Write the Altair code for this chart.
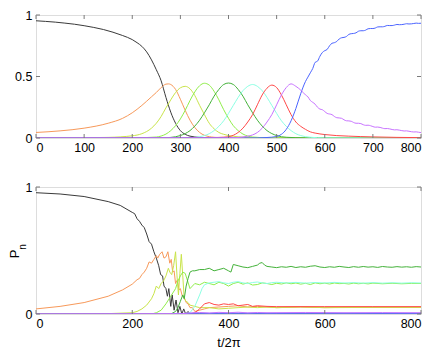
import altair as alt
import pandas as pd

# ---------------- data (t/2pi, P_n) ----------------
SERIES = ["black", "orange", "yellowgreen", "lightgreen", "green", "cyan", "red", "blue", "magenta"]
COLORS = ["#3a3a3a", "#f7995a", "#c9e44a", "#90ee4a", "#44b23a", "#8cffe4", "#ff4848", "#4b64ff", "#c873ff"]

top_black = [(0,.953),(20,.948),(40,.942),(60,.934),(80,.925),(100,.913),(120,.899),(140,.882),(160,.86),(180,.833),(200,.80),(210,.775),(220,.745),(230,.70),(240,.635),(250,.555),(260,.465),(270,.33),(280,.21),(290,.12),(300,.06),(310,.03),(320,.015),(340,.005),(360,.002),(400,0),(800,0)]
top_orange = [(0,.045),(50,.058),(100,.08),(150,.12),(180,.16),(200,.205),(220,.265),(240,.335),(250,.37),(260,.41),(270,.438),(275,.44),(280,.435),(290,.395),(300,.315),(310,.225),(320,.145),(330,.085),(340,.045),(350,.022),(370,.006),(400,0),(800,0)]
top_yellowgreen = [(0,0),(100,.002),(150,.005),(200,.018),(220,.035),(240,.08),(250,.12),(260,.175),(270,.245),(280,.31),(290,.37),(300,.408),(310,.42),(320,.40),(330,.345),(340,.265),(350,.19),(360,.12),(370,.075),(380,.045),(390,.03),(400,.02),(420,.01),(450,.004),(500,0),(800,0)]
top_lightgreen = [(0,0),(200,.001),(250,.008),(260,.016),(270,.032),(280,.06),(290,.10),(300,.155),(310,.225),(320,.305),(330,.375),(340,.425),(350,.445),(360,.43),(370,.38),(380,.31),(390,.23),(400,.16),(410,.10),(420,.06),(430,.032),(440,.016),(450,.008),(480,.002),(520,0),(800,0)]
top_green = [(0,0),(260,.001),(280,.005),(300,.02),(310,.036),(320,.06),(330,.097),(340,.145),(350,.205),(360,.27),(370,.34),(380,.395),(390,.435),(400,.447),(410,.435),(420,.395),(430,.34),(440,.27),(450,.205),(460,.145),(470,.097),(480,.06),(490,.036),(500,.02),(520,.006),(560,.001),(800,0)]
top_cyan = [(0,0),(320,.002),(340,.01),(350,.02),(360,.035),(370,.06),(380,.095),(390,.14),(400,.20),(410,.265),(420,.33),(430,.385),(440,.42),(450,.435),(460,.42),(470,.385),(480,.33),(490,.265),(500,.20),(510,.14),(520,.095),(530,.06),(540,.035),(550,.02),(570,.006),(600,.001),(800,0)]
top_red = [(0,0),(360,.002),(380,.005),(400,.01),(410,.022),(420,.045),(430,.08),(440,.13),(450,.19),(460,.27),(470,.35),(480,.405),(490,.43),(500,.41),(510,.35),(520,.27),(530,.19),(540,.13),(550,.095),(560,.07),(570,.05),(580,.04),(600,.028),(650,.015),(700,.009),(750,.005),(800,.003)]
top_blue = [(0,0),(460,.001),(480,.004),(500,.012),(510,.03),(520,.07),(530,.14),(540,.24),(550,.36),(560,.46),(565,.495),(570,.53),(575,.565),(580,.615),(585,.625),(590,.665),(595,.695),(600,.71),(605,.72),(610,.75),(615,.77),(620,.775),(625,.785),(630,.805),(635,.815),(640,.818),(645,.825),(650,.842),(655,.848),(660,.85),(665,.855),(670,.868),(675,.872),(680,.872),(685,.877),(690,.888),(695,.89),(700,.89),(705,.894),(710,.903),(715,.904),(720,.904),(725,.908),(730,.915),(735,.914),(740,.914),(745,.918),(750,.923),(755,.921),(760,.922),(765,.925),(770,.929),(775,.927),(780,.928),(785,.931),(790,.934),(795,.932),(800,.933)]
top_magenta = [(0,0),(400,.001),(420,.004),(440,.015),(450,.025),(460,.045),(470,.08),(480,.13),(490,.19),(500,.27),(510,.35),(520,.41),(530,.44),(540,.42),(550,.39),(560,.35),(565,.335),(570,.305),(575,.29),(580,.275),(585,.25),(590,.235),(595,.23),(600,.215),(605,.20),(610,.195),(615,.19),(620,.175),(625,.165),(630,.163),(635,.16),(640,.148),(645,.14),(650,.139),(655,.136),(660,.126),(665,.12),(670,.12),(675,.117),(680,.108),(685,.103),(690,.104),(695,.10),(700,.093),(705,.088),(710,.089),(715,.086),(720,.08),(725,.076),(730,.077),(735,.074),(740,.069),(745,.066),(750,.067),(755,.064),(760,.06),(765,.057),(770,.058),(775,.055),(780,.051),(785,.049),(790,.05),(795,.047),(800,.044)]

bot_black = [(0,.955),(50,.945),(100,.925),(150,.885),(175,.855),(200,.80),(205,.79),(210,.75),(215,.73),(220,.70),(225,.68),(230,.63),(235,.57),(240,.55),(245,.49),(250,.44),(255,.38),(259,.31),(263,.30),(266,.22),(270,.20),(273,.14),(276,.20),(280,.06),(283,.15),(287,.03),(291,.11),(295,.01),(299,.06),(303,0),(307,.04),(311,0),(316,.02),(320,0),(800,0)]
bot_orange = [(0,.04),(50,.06),(100,.09),(150,.14),(180,.19),(200,.235),(210,.27),(215,.28),(220,.31),(225,.33),(230,.36),(235,.41),(240,.40),(245,.43),(250,.46),(253,.44),(257,.47),(262,.49),(266,.44),(270,.45),(274,.49),(278,.40),(281,.43),(284,.33),(287,.34),(290,.24),(294,.27),(297,.19),(300,.20),(304,.14),(308,.13),(312,.09),(316,.08),(320,.05),(325,.05),(330,.02),(340,.03),(350,.04),(360,.05),(380,.055),(400,.06),(420,.065),(440,.055),(460,.06),(480,.055),(500,.05),(550,.055),(600,.05),(650,.053),(700,.052),(800,.052)]
bot_yellowgreen = [(0,0),(150,.003),(200,.01),(210,.02),(220,.04),(230,.07),(240,.12),(245,.16),(250,.22),(255,.20),(260,.24),(265,.26),(270,.30),(275,.36),(278,.33),(282,.31),(286,.38),(290,.49),(293,.30),(296,.15),(299,.32),(302,.47),(305,.30),(308,.12),(312,.10),(316,.09),(320,.07),(330,.06),(340,.05),(360,.05),(380,.04),(400,.045),(420,.05),(440,.055),(460,.05),(480,.055),(500,.05),(550,.055),(600,.05),(700,.052),(800,.052)]
bot_lightgreen = [(0,0),(240,0),(250,.01),(260,.03),(270,.08),(280,.14),(290,.20),(295,.26),(300,.30),(305,.33),(310,.32),(315,.26),(320,.20),(325,.22),(330,.24),(340,.23),(350,.25),(360,.24),(370,.23),(380,.25),(390,.24),(400,.22),(410,.24),(420,.25),(430,.235),(440,.245),(450,.228),(460,.232),(470,.245),(480,.24),(490,.232),(500,.242),(510,.236),(520,.245),(530,.238),(540,.244),(550,.235),(560,.242),(570,.232),(580,.245),(590,.238),(600,.243),(610,.236),(620,.244),(630,.239),(640,.241),(650,.236),(660,.243),(670,.238),(680,.242),(690,.237),(700,.243),(720,.238),(740,.242),(760,.238),(780,.241),(800,.24)]
bot_green = [(0,0),(280,0),(290,.02),(295,.05),(300,.10),(305,.15),(308,.12),(312,.22),(316,.28),(320,.33),(325,.34),(330,.34),(340,.35),(350,.35),(360,.36),(370,.34),(380,.35),(390,.36),(400,.34),(405,.33),(410,.39),(420,.38),(430,.37),(440,.365),(450,.375),(460,.385),(465,.40),(470,.405),(475,.385),(480,.375),(490,.37),(500,.365),(510,.372),(520,.368),(530,.375),(540,.366),(550,.372),(560,.368),(570,.376),(580,.38),(590,.37),(600,.366),(610,.372),(620,.368),(630,.375),(640,.37),(650,.366),(660,.373),(670,.368),(680,.374),(690,.369),(700,.372),(710,.367),(720,.374),(730,.37),(740,.368),(750,.373),(760,.369),(770,.372),(780,.368),(790,.373),(800,.37)]
bot_cyan = [(0,0),(310,0),(320,.01),(330,.06),(340,.15),(345,.20),(350,.23),(360,.245),(370,.25),(380,.255),(390,.245),(400,.24),(410,.25),(420,.255),(430,.245),(440,.24),(450,.248),(460,.252),(470,.245),(480,.24),(490,.247),(500,.25),(520,.244),(540,.249),(560,.243),(580,.248),(600,.244),(620,.249),(640,.244),(660,.247),(680,.243),(700,.247),(720,.243),(740,.246),(760,.243),(780,.246),(800,.244)]
bot_red = [(0,0),(320,0),(330,.01),(340,.04),(350,.08),(360,.09),(370,.075),(380,.07),(390,.08),(400,.075),(410,.08),(420,.065),(430,.07),(440,.075),(450,.06),(460,.065),(480,.06),(500,.058),(600,.058),(700,.058),(800,.058)]
bot_blue = [(0,0),(280,0),(300,.003),(320,.005),(340,.006),(360,.005),(400,.006),(500,.005),(600,.006),(700,.005),(800,.005)]
bot_magenta = [(0,0),(300,.002),(320,.008),(340,.012),(360,.008),(380,.013),(400,.01),(420,.014),(440,.009),(460,.012),(480,.01),(560,.012),(640,.01),(720,.011),(800,.01)]

TOP_X_TICKS = [0, 100, 200, 300, 400, 500, 600, 700, 800]
TOP_Y_TICKS = [0, 0.5, 1]
BOT_X_TICKS = [0, 200, 400, 600, 800]
BOT_Y_TICKS = [0, 1]

top_data = {"black": top_black, "orange": top_orange, "yellowgreen": top_yellowgreen,
            "lightgreen": top_lightgreen, "green": top_green, "cyan": top_cyan,
            "red": top_red, "blue": top_blue, "magenta": top_magenta}
bot_data = {"black": bot_black, "orange": bot_orange, "yellowgreen": bot_yellowgreen,
            "lightgreen": bot_lightgreen, "green": bot_green, "cyan": bot_cyan,
            "red": bot_red, "blue": bot_blue, "magenta": bot_magenta}

def frame(d):
    rows = []
    for k, name in enumerate(SERIES):
        for t, v in d[name]:
            rows.append({"series": name, "k": k, "t": t, "P": v})
    return pd.DataFrame(rows)

W = 385
H_TOP, H_BOT = 123, 127
GRAY = "#7a7a7a"
FONT = "Liberation Sans"

color = alt.Color("series:N", scale=alt.Scale(domain=SERIES, range=COLORS), legend=None)

def panel(df, xticks, yticks, interp, xtitle, H):
    xs = alt.Scale(domain=[0, 800], nice=False, zero=False)
    ys = alt.Scale(domain=[0, 1], nice=False)
    lines = alt.Chart(df).mark_line(strokeWidth=1, interpolate=interp, clip=True).encode(
        x=alt.X("t:Q", scale=xs,
                axis=alt.Axis(values=xticks, title=xtitle, grid=False, domain=False, ticks=False,
                              labelFont=FONT, labelFontSize=12.5, labelColor="black",
                              labelPadding=3, titleFont=FONT, titleFontSize=13,
                              titleFontWeight="normal", titleColor="black", titlePadding=7)),
        y=alt.Y("P:Q", scale=ys,
                axis=alt.Axis(values=yticks, title=None, grid=False, domain=False, ticks=False,
                              format="~g",
                              labelFont=FONT, labelFontSize=12.5, labelColor="black",
                              labelPadding=4)),
        color=color,
        order="k:Q",
    )
    xt = pd.DataFrame({"t": xticks})
    yt = pd.DataFrame({"P": yticks})
    xb = alt.Chart(xt).mark_rule(color=GRAY, strokeWidth=1).encode(
        x=alt.X("t:Q", scale=xs), y=alt.value(H), y2=alt.value(H - 4))
    xtp = alt.Chart(xt).mark_rule(color=GRAY, strokeWidth=1).encode(
        x=alt.X("t:Q", scale=xs), y=alt.value(0), y2=alt.value(4))
    yl = alt.Chart(yt).mark_rule(color=GRAY, strokeWidth=1).encode(
        y=alt.Y("P:Q", scale=ys), x=alt.value(0), x2=alt.value(4))
    yr = alt.Chart(yt).mark_rule(color=GRAY, strokeWidth=1).encode(
        y=alt.Y("P:Q", scale=ys), x=alt.value(W), x2=alt.value(W - 4))
    return [lines, xb, xtp, yl, yr]

top = alt.layer(*panel(frame(top_data), TOP_X_TICKS, TOP_Y_TICKS, "monotone", None, H_TOP)).properties(width=W, height=H_TOP)

ylab_p = alt.Chart(pd.DataFrame({"s": ["P"]})).mark_text(
    font=FONT, fontSize=13, angle=270, align="center", baseline="middle", color="black"
).encode(text="s:N", x=alt.value(-21), y=alt.value(67))
ylab_n = alt.Chart(pd.DataFrame({"s": ["n"]})).mark_text(
    font=FONT, fontSize=10, angle=270, align="center", baseline="middle", color="black"
).encode(text="s:N", x=alt.value(-13), y=alt.value(60))

bottom = alt.layer(*panel(frame(bot_data), BOT_X_TICKS, BOT_Y_TICKS, "linear", "t/2π", H_BOT),
                   ylab_p, ylab_n).properties(width=W, height=H_BOT)

chart = alt.vconcat(top, bottom, spacing=26).properties(
    padding={"left": 0, "top": 0, "right": 0, "bottom": 0}
).configure_view(stroke=GRAY, strokeWidth=1).configure(background="white")

chart.save("out.html", embed_options={"renderer": "svg", "actions": False})
